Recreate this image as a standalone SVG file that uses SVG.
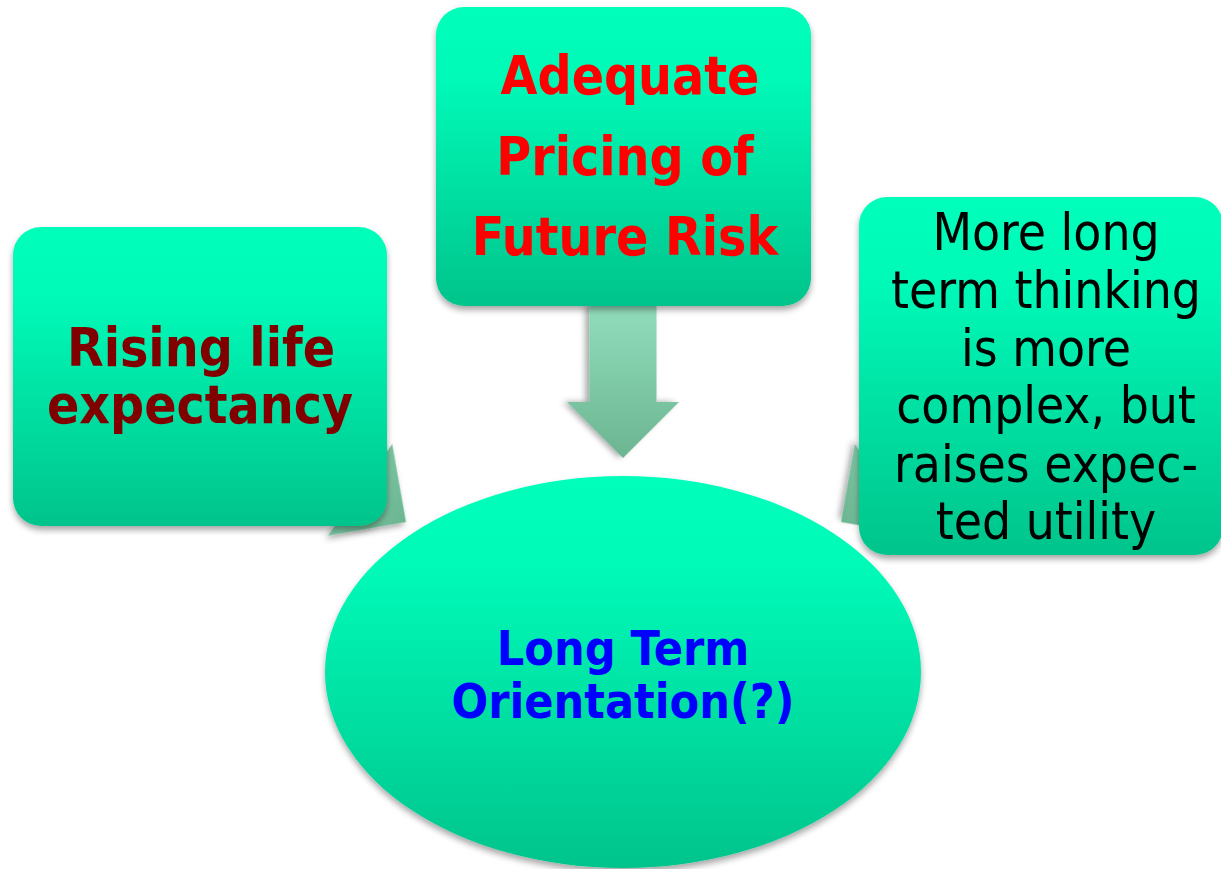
<svg xmlns="http://www.w3.org/2000/svg" width="1221" height="869" viewBox="0 0 1221 869">
  <defs>
    <linearGradient id="nodeFill" x1="0" y1="0" x2="0" y2="1">
      <stop offset="0" stop-color="#00ffbb"/>
      <stop offset="0.25" stop-color="#00f9b7"/>
      <stop offset="1" stop-color="#00c48b"/>
    </linearGradient>
    <linearGradient id="arrowFill" x1="0" y1="0" x2="1" y2="0">
      <stop offset="0" stop-color="#91ddbb"/>
      <stop offset="1" stop-color="#6cb592"/>
    </linearGradient>
    <filter id="shadow" x="-10%" y="-10%" width="120%" height="125%">
      <feDropShadow dx="0" dy="4" stdDeviation="3" flood-color="#000" flood-opacity="0.35"/>
    </filter>
    <!-- block arrow pointing along +x, tip at the origin -->
    <path id="blockArrow" d="M0,0 L-56,-56 L-56,-33.5 L-153,-33.5 L-153,33.5 L-56,33.5 L-56,56 Z"/>
  </defs>
  <style>
    .node { fill: url(#nodeFill); filter: url(#shadow); }
    .arrow { fill: url(#arrowFill); filter: url(#shadow); }
    .bold { font-family: "DejaVu Sans Condensed", "DejaVu Sans", sans-serif; font-stretch: condensed; font-weight: bold; text-anchor: middle; }
    .plain { font-family: "DejaVu Sans Condensed", "DejaVu Sans", sans-serif; font-stretch: condensed; font-weight: normal; text-anchor: middle; fill: #000; font-size: 51px; }
  </style>

  <!-- connectors -->
  <g id="connectors">
    <use href="#blockArrow" class="arrow" transform="translate(623,458) rotate(90)"/>
    <use href="#blockArrow" class="arrow" transform="translate(406,522) rotate(35)"/>
    <use href="#blockArrow" class="arrow" transform="translate(841,522) rotate(145)"/>
  </g>

  <!-- central outcome -->
  <g id="node-orientation">
    <ellipse class="node" cx="623" cy="672" rx="298" ry="196"/>
    <text class="bold" fill="#0000ff" font-size="48" x="623" y="665">Long Term</text>
    <text class="bold" fill="#0000ff" font-size="48" x="623" y="718">Orientation(?)</text>
  </g>

  <!-- left driver -->
  <g id="node-life-expectancy">
    <rect class="node" x="13" y="227" width="374" height="299" rx="28" ry="28"/>
    <text class="bold" fill="#800000" font-size="53" x="201" y="366">Rising life</text>
    <text class="bold" fill="#800000" font-size="53" x="200" y="423">expectancy</text>
  </g>

  <!-- top driver -->
  <g id="node-pricing">
    <rect class="node" x="436" y="7" width="375" height="299" rx="28" ry="28"/>
    <text class="bold" fill="#ff0000" font-size="53" x="630" y="94">Adequate</text>
    <text class="bold" fill="#ff0000" font-size="53" x="625" y="175">Pricing of</text>
    <text class="bold" fill="#ff0000" font-size="53" x="625" y="255">Future Risk</text>
  </g>

  <!-- right driver -->
  <g id="node-thinking">
    <rect class="node" x="859" y="197" width="364" height="358" rx="28" ry="28"/>
    <text class="plain" x="1046" y="250">More long</text>
    <text class="plain" x="1046" y="308">term thinking</text>
    <text class="plain" x="1046" y="366">is more</text>
    <text class="plain" x="1046" y="423">complex, but</text>
    <text class="plain" x="1046" y="482">raises expec-</text>
    <text class="plain" x="1046" y="539">ted utility</text>
  </g>
</svg>
